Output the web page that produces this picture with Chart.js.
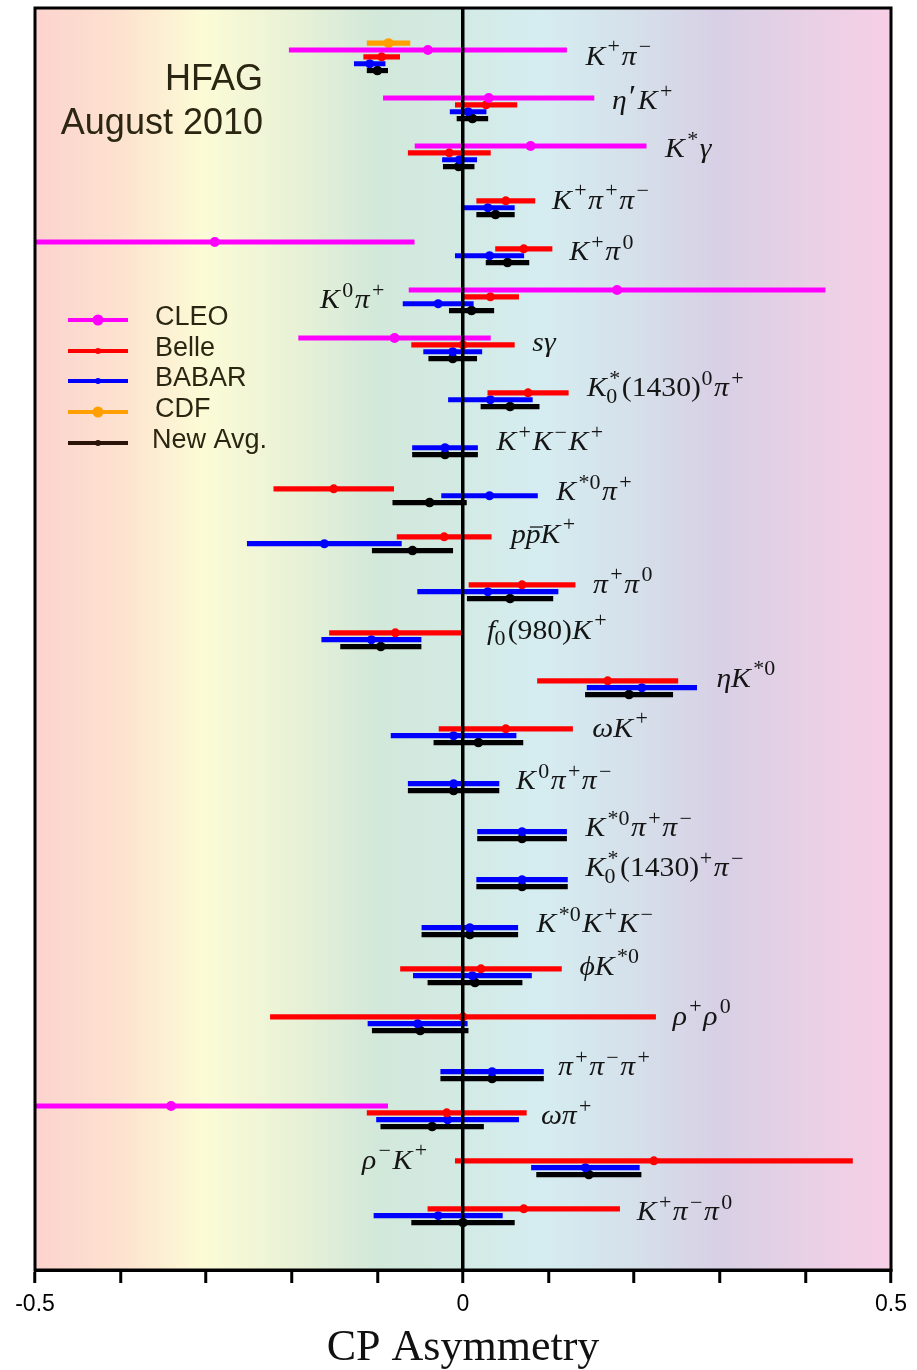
<!DOCTYPE html>
<html>
<head>
<meta charset="utf-8">
<script src="https://cdn.jsdelivr.net/npm/chart.js@4.4.0/dist/chart.umd.min.js"></script>
<style>
  html, body { margin: 0; padding: 0; background: #ffffff; }
  canvas { display: block; }
</style>
</head>
<body>
<canvas id="chart" width="917" height="1370"></canvas>
<script>
// Decay modes, top to bottom (mini markup: ^ superscript, _ subscript, ~ overbar)
const decays = [
  'K^+π^−', 'η^′K^+', 'K^*γ', 'K^+π^+π^−', 'K^+π^0', 'K^0π^+', 'sγ',
  'K_0^*(1430)^0π^+', 'K^+K^−K^+', 'K^{*0}π^+', 'p~pK^+', 'π^+π^0',
  'f_0(980)K^+', 'ηK^{*0}', 'ωK^+', 'K^0π^+π^−', 'K^{*0}π^+π^−',
  'K_0^*(1430)^+π^−', 'K^{*0}K^+K^−', 'ϕK^{*0}', 'ρ^+ρ^0', 'π^+π^−π^+',
  'ωπ^+', 'ρ^−K^+', 'K^+π^−π^0'
];

// Label anchor for each decay: left edge in asymmetry units, row offset within the block
const labelX = [
  0.143, 0.174, 0.236, 0.104, 0.124, -0.167, 0.081, 0.145, 0.039, 0.109, 0.056, 0.152,
  0.028, 0.296, 0.151, 0.062, 0.143, 0.143, 0.086, 0.136, 0.245, 0.111, 0.091, -0.118, 0.203
];
const labelRow = [
  1.0, 0.45, 0.45, 1.0, 1.45, 1.45, 0.7, 0.3, 1.15, 1.45, 0.7, 1.0,
  0.6, 0.6, 1.0, 1.6, 1.45, 0.3, 1.45, 0.7, 1.0, 1.3, 1.45, 0.9, 1.45
];

// CP asymmetry measurements (central value, symmetric error); null = no measurement
const cleoVal = [-0.041, 0.030, 0.079, null, -0.290, 0.180, -0.080, null, null, null, null, null,
  null, null, null, null, null, null, null, null, null, null, -0.341, null, null];
const cleoErr = [0.162, 0.123, 0.135, null, 0.233, 0.243, 0.112, null, null, null, null, null,
  null, null, null, null, null, null, null, null, null, null, 0.253, null, null];

const belleVal = [-0.095, 0.027, -0.016, 0.050, 0.071, 0.032, 0.000, 0.076, null, -0.151, -0.022, 0.069,
  -0.079, 0.169, 0.050, null, null, null, null, 0.021, 0.000, null, -0.019, 0.223, 0.071];
const belleErr = [0.021, 0.036, 0.048, 0.034, 0.033, 0.033, 0.060, 0.047, null, 0.070, 0.055, 0.062,
  0.077, 0.082, 0.078, null, null, null, null, 0.094, 0.225, null, 0.093, 0.232, 0.112];

const babarVal = [-0.109, 0.006, -0.004, 0.029, 0.031, -0.029, -0.012, 0.032, -0.021, 0.031, -0.162, 0.029,
  -0.107, 0.209, -0.011, -0.011, 0.069, 0.069, 0.008, 0.011, -0.053, 0.034, -0.018, 0.143, -0.029];
const babarErr = [0.018, 0.021, 0.020, 0.031, 0.040, 0.041, 0.034, 0.049, 0.038, 0.056, 0.090, 0.082,
  0.058, 0.064, 0.073, 0.053, 0.052, 0.053, 0.056, 0.069, 0.058, 0.060, 0.083, 0.063, 0.075];

const cdfVal = [-0.087, null, null, null, null, null, null, null, null, null, null, null,
  null, null, null, null, null, null, null, null, null, null, null, null, null];
const cdfErr = [0.025, null, null, null, null, null, null, null, null, null, null, null,
  null, null, null, null, null, null, null, null, null, null, null, null, null];

const avgVal = [-0.100, 0.011, -0.005, 0.038, 0.052, 0.010, -0.012, 0.055, -0.021, -0.039, -0.059, 0.055,
  -0.096, 0.194, 0.018, -0.011, 0.069, 0.069, 0.008, 0.014, -0.050, 0.034, -0.036, 0.147, 0.000];
const avgErr = [0.012, 0.018, 0.018, 0.022, 0.025, 0.026, 0.028, 0.034, 0.038, 0.043, 0.047, 0.050,
  0.047, 0.051, 0.052, 0.053, 0.052, 0.053, 0.056, 0.055, 0.056, 0.060, 0.060, 0.061, 0.060];

const xTickLabels = [-0.5, 0, 0.5];

// Each decay owns a block of 7 rows; every experiment has a fixed row inside it
const ROWS_PER_DECAY = 7;
const experiments = [
  { name: 'CLEO',     color: '#ff00ff', vals: cleoVal,  errs: cleoErr,  row: 0,  dot: 5,   legendDot: 5.5 },
  { name: 'Belle',    color: '#ff0000', vals: belleVal, errs: belleErr, row: 1,  dot: 4.5, legendDot: 3 },
  { name: 'BABAR',    color: '#0000ff', vals: babarVal, errs: babarErr, row: 2,  dot: 4.5, legendDot: 3 },
  { name: 'CDF',      color: '#ffa000', vals: cdfVal,   errs: cdfErr,   row: -1, dot: 5,   legendDot: 5.5 },
  { name: 'New Avg.', color: '#000000', vals: avgVal,   errs: avgErr,   row: 3,  dot: 4.8, legendDot: 3, legendColor: '#2a140a' }
];

const datasets = [];
experiments.forEach(exp => {
  const bars = [], dots = [];
  exp.vals.forEach((v, i) => {
    if (v === null) return;
    const y = i * ROWS_PER_DECAY + exp.row;
    bars.push({ y: y, x: [v - exp.errs[i], v + exp.errs[i]] });
    dots.push({ x: v, y: y });
  });
  datasets.push({
    type: 'bar', label: exp.name, indexAxis: 'y', data: bars,
    backgroundColor: exp.color, borderWidth: 0, barThickness: 4.5, grouped: false, clip: 0
  });
  datasets.push({
    type: 'scatter', label: exp.name + ' value', data: dots,
    backgroundColor: exp.color, borderWidth: 0, pointRadius: exp.dot, pointHoverRadius: exp.dot, clip: 0
  });
});

// Horizontal colour wash behind the plot
const backdrop = {
  id: 'backdrop',
  beforeDraw(chart) {
    const { ctx, chartArea: a } = chart;
    const g = ctx.createLinearGradient(a.left, 0, a.right, 0);
    [[0.00, '#fcd3cf'], [0.10, '#fde2cf'], [0.195, '#fcfbd6'], [0.30, '#e9f2d6'],
     [0.40, '#d2e8da'], [0.50, '#d3eae4'], [0.59, '#d5edf1'], [0.70, '#d5e0ea'],
     [0.80, '#d8d0e5'], [0.90, '#e8d0e5'], [1.00, '#f7cfe6']].forEach(s => g.addColorStop(s[0], s[1]));
    ctx.save();
    ctx.fillStyle = g;
    ctx.fillRect(a.left, a.top, a.right - a.left, a.bottom - a.top);
    ctx.restore();
  }
};

// Typeset a decay label with italic symbols and small raised/lowered indices
function drawMath(ctx, src, x0, yMid, size, sx) {
  ctx.save();
  ctx.translate(x0, 0);
  ctx.scale(sx, 1);
  ctx.textAlign = 'left';
  ctx.textBaseline = 'alphabetic';
  const small = size * 0.74;
  const baseline = yMid + size * 0.3;
  const supDy = -size * 0.42, subDy = size * 0.24;
  const romanRe = /[0-9()+\u2212\u2032*]/;
  const fam = 'px "Liberation Serif", "DejaVu Serif", serif';
  const put = (str, s, dy, xx) => {
    let w = 0;
    for (const ch of str) {
      const sz = ch === '\u2032' ? s * 1.5 : s;
      const yy = ch === '\u2032' ? dy + s * 0.45 : dy;
      ctx.font = (romanRe.test(ch) ? '' : 'italic ') + sz + fam;
      ctx.fillText(ch, xx + w, baseline + yy);
      w += ctx.measureText(ch).width;
    }
    return w;
  };
  let i = 0, x = 0, lastItalic = false;
  const group = () => {
    if (src[i] === '{') {
      const j = src.indexOf('}', i);
      const g = src.slice(i + 1, j);
      i = j + 1;
      return g;
    }
    return src[i++];
  };
  while (i < src.length) {
    const ch = src[i];
    if (ch === '^' || ch === '_') {
      let sup = null, sub = null;
      while (i < src.length && (src[i] === '^' || src[i] === '_')) {
        const t = src[i++];
        const g = group();
        if (t === '^') sup = g; else sub = g;
      }
      const kick = lastItalic ? size * 0.08 : size * 0.02;
      let w = 0;
      if (sup) w = Math.max(w, kick + put(sup, small, supDy, x + kick));
      if (sub) w = Math.max(w, put(sub, small, subDy, x - size * 0.02));
      x += w + size * 0.05;
      lastItalic = false;
    } else if (ch === '~') {
      i++;
      const c = src[i++];
      const w = put(c, size, 0, x);
      ctx.fillRect(x + size * 0.14, baseline - size * 0.6, w - size * 0.06, Math.max(1.2, size * 0.045));
      x += w;
      lastItalic = true;
    } else {
      i++;
      x += put(ch, size, 0, x);
      lastItalic = !romanRe.test(ch);
    }
  }
  ctx.restore();
}

// Decay labels, the HFAG stamp and the experiment key
const annotations = {
  id: 'annotations',
  afterDatasetsDraw(chart) {
    const { ctx } = chart;
    const xs = chart.scales.x, ys = chart.scales.y;
    ctx.save();
    ctx.fillStyle = '#151515';
    decays.forEach((d, i) => {
      const px = xs.getPixelForValue(labelX[i]);
      const py = ys.getPixelForValue(i * ROWS_PER_DECAY + labelRow[i]);
      drawMath(ctx, d, px, py, 28, 1.06);
    });

    ctx.fillStyle = '#2b2612';
    ctx.font = '36px "Liberation Sans", Arial, sans-serif';
    ctx.textAlign = 'right';
    ctx.textBaseline = 'alphabetic';
    ctx.fillText('HFAG', 263, 90);
    ctx.fillText('August 2010', 263, 134);

    const legendY = [320, 351, 381, 412, 443];
    ctx.textAlign = 'left';
    ctx.textBaseline = 'middle';
    ctx.font = '27px "Liberation Sans", Arial, sans-serif';
    experiments.forEach((exp, k) => {
      const y = legendY[k];
      const col = exp.legendColor || exp.color;
      ctx.strokeStyle = col;
      ctx.lineWidth = 4;
      ctx.beginPath();
      ctx.moveTo(68, y);
      ctx.lineTo(128, y);
      ctx.stroke();
      ctx.fillStyle = col;
      ctx.beginPath();
      ctx.arc(98, y, exp.legendDot, 0, Math.PI * 2);
      ctx.fill();
      ctx.fillStyle = '#2b2612';
      ctx.fillText(exp.name, exp.name === 'New Avg.' ? 152 : 155, y - 2);
    });
    ctx.restore();
  },
  afterDraw(chart) {
    const { ctx, chartArea: a } = chart;
    ctx.save();
    ctx.strokeStyle = '#000';
    ctx.lineWidth = 3;
    ctx.strokeRect(a.left, a.top, a.right - a.left, a.bottom - a.top);
    ctx.restore();
  }
};

new Chart(document.getElementById('chart'), {
  type: 'scatter',
  data: { datasets },
  options: {
    responsive: false,
    animation: false,
    events: [],
    layout: { padding: { left: 35, right: 26, top: 8, bottom: 0 } },
    plugins: { legend: { display: false }, tooltip: { enabled: false } },
    scales: {
      x: {
        type: 'linear', min: -0.5, max: 0.5, offset: false,
        afterFit(scale) { scale.height = 100; },
        border: { display: true, color: '#000', width: 3, z: 1 },
        grid: {
          z: 1,
          drawOnChartArea: true,
          color: c => (c.tick && Math.abs(c.tick.value) < 1e-9) ? '#000' : 'rgba(0,0,0,0)',
          lineWidth: 3.5,
          tickColor: '#000',
          tickWidth: 3,
          tickLength: 13
        },
        ticks: {
          stepSize: 0.1, autoSkip: false, maxRotation: 0, padding: 8, color: '#000',
          font: { family: '"Liberation Sans", Arial, sans-serif', size: 23 },
          callback: v => {
            const hit = xTickLabels.find(t => Math.abs(t - v) < 1e-9);
            return hit === undefined ? '' : String(hit);
          }
        },
        title: {
          display: true, text: 'CP Asymmetry', color: '#111',
          font: { family: '"Liberation Serif", "DejaVu Serif", serif', size: 44, lineHeight: 1 },
          padding: { top: 0, bottom: 0 }
        }
      },
      y: {
        type: 'linear', display: false, reverse: true,
        min: -6.125, max: 177.92, offset: false
      }
    }
  },
  plugins: [backdrop, annotations]
});
</script>
</body>
</html>
